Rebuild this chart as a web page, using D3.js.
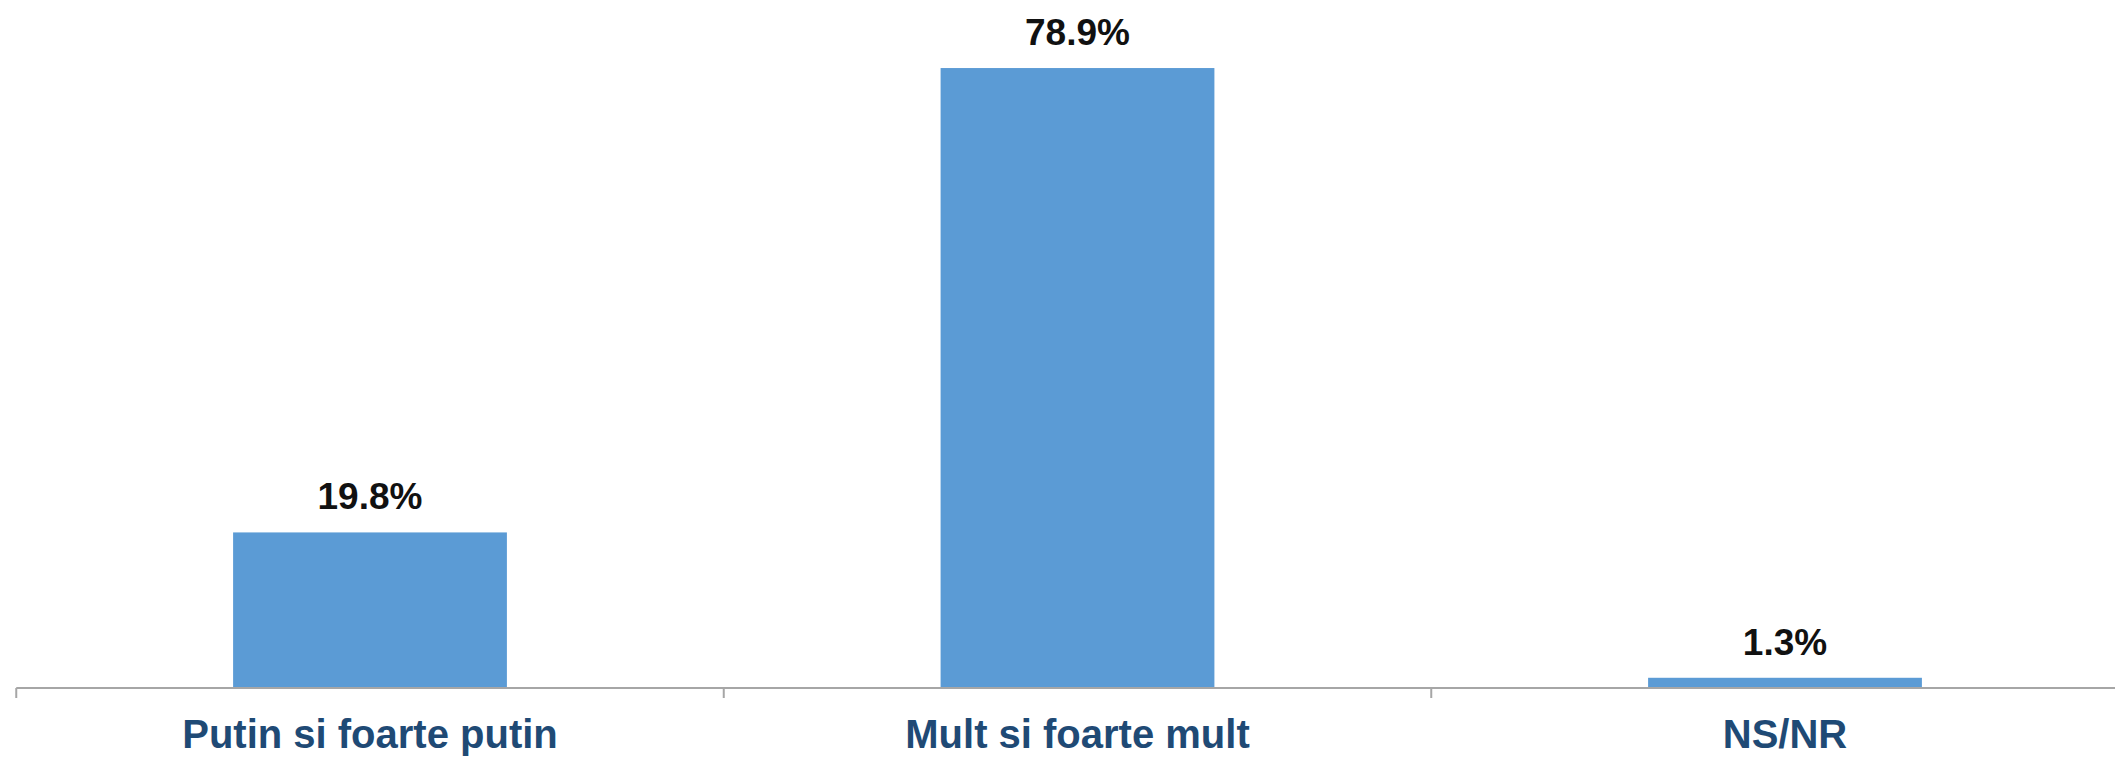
<!DOCTYPE html>
<html>
<head>
<meta charset="utf-8">
<script src="https://cdn.jsdelivr.net/npm/d3@7"></script>
<style>
html,body{margin:0;padding:0;background:#fff;}
svg{display:block;}
</style>
</head>
<body>
<svg id="chart" width="2115" height="757"></svg>
<script>
const categories = ["Putin si foarte putin", "Mult si foarte mult", "NS/NR"];
const values = [19.8, 78.9, 1.3];
const valueLabels = ["19.8%", "78.9%", "1.3%"];

const W = 2115, H = 757;
const svg = d3.select("#chart");
const x = d3.scaleBand().domain(categories).range([16.25, 2138.75]).paddingInner(0.613).paddingOuter(0.3065);
const y = d3.scaleLinear().domain([0, 80]).range([688, 59.4]);

// bars
svg.append("g").selectAll("rect").data(values).join("rect")
  .attr("x", (d,i) => x(categories[i]))
  .attr("y", d => y(d))
  .attr("width", x.bandwidth())
  .attr("height", d => y(0) - y(d))
  .attr("fill", "#5B9BD5");

// axis
const axisG = svg.append("g").attr("transform", `translate(0,${y(0)})`);
axisG.append("line").attr("x1", x.range()[0]).attr("x2", W).attr("y1", 0).attr("y2", 0)
  .attr("stroke", "#A6A6A6").attr("stroke-width", 2);
const step = x.step();
const tickXs = categories.map((c,i) => x.range()[0] + i*step);
axisG.selectAll("line.tick").data(tickXs).join("line").attr("class","tick")
  .attr("x1", d => d).attr("x2", d => d).attr("y1", 0).attr("y2", 10)
  .attr("stroke", "#A6A6A6").attr("stroke-width", 2);

// value labels
svg.append("g").selectAll("text").data(values).join("text")
  .attr("x", (d,i) => x(categories[i]) + x.bandwidth()/2)
  .attr("y", d => y(d) - 23)
  .attr("text-anchor", "middle")
  .attr("font-family", "'Liberation Sans', Arial, sans-serif")
  .attr("font-weight", "bold")
  .attr("font-size", 37)
  .attr("fill", "#111")
  .text((d,i) => valueLabels[i]);

// category labels
svg.append("g").selectAll("text").data(categories).join("text")
  .attr("x", d => x(d) + x.bandwidth()/2)
  .attr("y", 748)
  .attr("text-anchor", "middle")
  .attr("font-family", "'Liberation Sans', Arial, sans-serif")
  .attr("font-weight", "bold")
  .attr("font-size", 40)
  .attr("fill", "#1F4A75")
  .text(d => d);
</script>
</body>
</html>
